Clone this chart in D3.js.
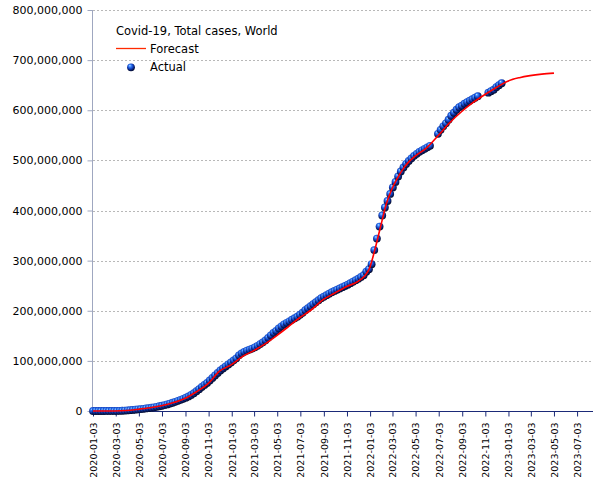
<!DOCTYPE html>
<html><head><meta charset="utf-8">
<script src="https://cdn.jsdelivr.net/npm/d3@7"></script>
<style>
body{margin:0;background:#fff}
svg{display:block}
text{font-family:"DejaVu Sans",sans-serif;fill:#000}
</style>
</head><body>
<svg id="c" width="605" height="480"></svg>
<script>
// ---------------- data ----------------
const chartTitle = "Covid-19, Total cases, World";
const seriesNames = ["Forecast", "Actual"];
const yTickValues = [0, 100e6, 200e6, 300e6, 400e6, 500e6, 600e6, 700e6, 800e6];
const xTickLabels = ["2020-01-03","2020-03-03","2020-05-03","2020-07-03","2020-09-03","2020-11-03",
  "2021-01-03","2021-03-03","2021-05-03","2021-07-03","2021-09-03","2021-11-03",
  "2022-01-03","2022-03-03","2022-05-03","2022-07-03","2022-09-03","2022-11-03",
  "2023-01-03","2023-03-03","2023-05-03","2023-07-03"];
const xDomain = ["2020-01-03", "2023-08-14"];
// Actual: weekly reports starting on this date, values in millions (null = no report)
const actualFirstDate = "2020-01-03";
const actualMillions = [
  0.0, 0.0, 0.01, 0.02, 0.03, 0.05, 0.07, 0.08, 0.1, 0.15,
  0.3, 0.5, 0.8, 1.2, 1.7, 2.2, 2.7, 3.3, 3.8, 4.4,
  5.1, 5.8, 6.6, 7.4, 8.4, 9.5, 10.5, 11.8, 13.2, 14.8,
  16.5, 18.3, 20.2, 22.2, 24.3, 26.5, 29, 32, 35.5, 39.5,
  43.5, 48, 52, 56, 61, 66, 71, 76, 81, 85,
  89, 93, 97, 101, 105, 111, 115, 118, 120.5, 122.5,
  124.5, 127, 130, 133.5, 137, 141, 146, 151, 156, 160,
  165, 169, 173, 176, 179, 182, 185, 188, 192, 196,
  201, 205, 209, 213, 217, 221, 225, 228, 231, 234,
  237, 239.5, 242, 244.5, 247, 249.5, 252, 255, 258, 261,
  264, 267.5, 271, 278, 283, 293, 321, 344, 368, 390,
  406, 419, 433, 446, 457, 468, 478, 486, 493, 499,
  504, 509, 513, 517, 520, 523, 526, 529, null, null,
  553, 561, 568, 574, 581, 589, 595, 601, 606, 609,
  613, 616, 619, 622, 625, 628, null, null, null, 635,
  638, 641, 646, 650, 654
];
// Forecast curve, values in millions
const forecastDates = ["2020-01-03","2020-02-01","2020-03-01","2020-04-01","2020-05-01","2020-06-01",
  "2020-07-01","2020-08-01","2020-09-01","2020-10-01","2020-11-01","2020-12-01",
  "2021-01-01","2021-02-01","2021-03-01","2021-04-01","2021-05-01","2021-06-01",
  "2021-07-01","2021-08-01","2021-09-01","2021-10-01","2021-11-01","2021-12-01","2021-12-20",
  "2022-01-01","2022-01-15","2022-02-01","2022-02-15","2022-03-01","2022-03-15",
  "2022-04-01","2022-04-15","2022-05-01","2022-06-01","2022-07-01","2022-08-01",
  "2022-09-01","2022-10-01","2022-11-01","2022-12-01","2023-01-01","2023-02-01",
  "2023-03-01","2023-04-01","2023-05-03"];
const forecastMillions = [0, 0.05, 0.1, 0.9, 3.3, 6.4,
  10.6, 16.5, 25, 38, 54, 79,
  92, 109, 120, 134, 150, 168,
  186, 202, 222, 235, 248, 258, 270,
  284, 320, 372, 414, 442, 463,
  484, 497, 508, 525, 549, 575,
  597, 615, 631, 645, 658, 665,
  669, 672, 674];

// ---------------- chart ----------------
const parse = d3.utcParse("%Y-%m-%d");
const svg = d3.select("#c");
const x = d3.scaleUtc().domain(xDomain.map(parse)).range([93, 593]);
const y = d3.scaleLinear().domain([0, 800e6]).range([411, 10]);

const defs = svg.append("defs");
const g = defs.append("radialGradient").attr("id", "ball")
  .attr("cx", "45%").attr("cy", "40%").attr("r", "62%").attr("fx", "35%").attr("fy", "28%");
g.append("stop").attr("offset", "0%").attr("stop-color", "#c4e2ff");
g.append("stop").attr("offset", "22%").attr("stop-color", "#3f8cff");
g.append("stop").attr("offset", "55%").attr("stop-color", "#1242c4");
g.append("stop").attr("offset", "82%").attr("stop-color", "#081a5c");
g.append("stop").attr("offset", "100%").attr("stop-color", "#020828");

// grid
svg.append("g").selectAll("line").data(yTickValues.filter(d => d > 0)).join("line")
  .attr("x1", 93).attr("x2", 593)
  .attr("y1", d => Math.round(y(d)) + 0.5).attr("y2", d => Math.round(y(d)) + 0.5)
  .attr("stroke", "#b8b8b8").attr("stroke-dasharray", "2,2");

// y axis
const yAxis = d3.axisLeft(y).tickValues(yTickValues).tickFormat(d3.format(",")).tickSize(5).tickPadding(5);
const ya = svg.append("g").attr("transform", "translate(92.5,0)").call(yAxis);
ya.select(".domain").attr("stroke", "#9fa7c0").attr("d", "M0,10V411");
ya.selectAll(".tick line").attr("stroke", "#9fa7c0");
ya.selectAll(".tick text").attr("font-size", "11px").attr("font-family", "DejaVu Sans").attr("fill", "#000");

// x axis
const xAxis = d3.axisBottom(x).tickValues(xTickLabels.map(parse)).tickFormat(d3.utcFormat("%Y-%m-%d")).tickSize(5);
const xa = svg.append("g").attr("transform", "translate(0,411.5)").call(xAxis);
xa.select(".domain").attr("stroke", "#1b2a78").attr("d", "M92,0H593");
xa.selectAll(".tick line").attr("stroke", "#1b2a78");
xa.selectAll(".tick text")
  .attr("font-size", "9.5px").attr("font-family", "DejaVu Sans").attr("fill", "#000")
  .attr("text-anchor", "end")
  .attr("transform", "translate(0,11) rotate(-90)")
  .attr("x", 0).attr("y", 0).attr("dy", "0.35em");

// actual markers
const t0 = parse(actualFirstDate);
const actual = actualMillions.map((v, i) => ({date: d3.utcDay.offset(t0, 7 * i), value: v}))
  .filter(d => d.value !== null);
svg.append("g").selectAll("circle").data(actual).join("circle")
  .attr("cx", d => x(d.date)).attr("cy", d => y(d.value * 1e6)).attr("r", 3.9)
  .attr("fill", "url(#ball)");

// forecast line
const forecast = forecastDates.map((d, i) => ({date: parse(d), value: forecastMillions[i]}));
svg.append("path").datum(forecast)
  .attr("fill", "none").attr("stroke", "#ff0000").attr("stroke-width", 1.6)
  .attr("d", d3.line().x(d => x(d.date)).y(d => y(d.value * 1e6)).curve(d3.curveMonotoneX));

// legend
const lg = svg.append("g");
lg.append("text").attr("x", 116).attr("y", 35).attr("font-size", "11.5px").text(chartTitle);
lg.append("line").attr("x1", 116).attr("x2", 146).attr("y1", 48.5).attr("y2", 48.5)
  .attr("stroke", "#ff2a00").attr("stroke-width", 1.3);
lg.append("text").attr("x", 150).attr("y", 53).attr("font-size", "11.5px").text(seriesNames[0]);
lg.append("circle").attr("cx", 131).attr("cy", 67.3).attr("r", 3.9).attr("fill", "url(#ball)");
lg.append("text").attr("x", 150).attr("y", 71).attr("font-size", "11.5px").text(seriesNames[1]);
</script>
</body></html>
